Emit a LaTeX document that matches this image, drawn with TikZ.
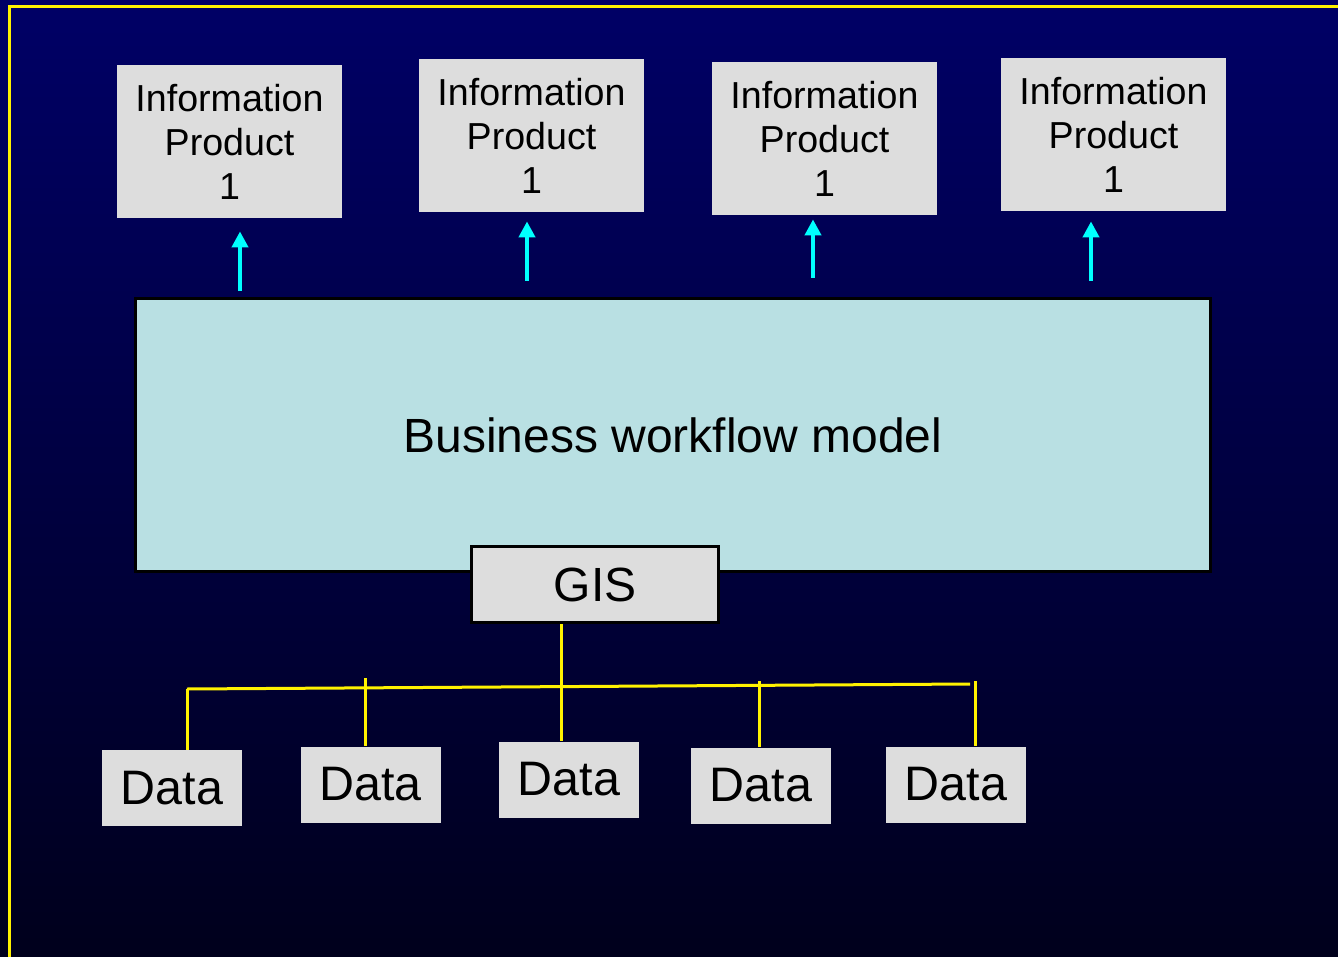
\documentclass[tikz,border=0pt]{standalone}
\usepackage{fontspec}
\setmainfont{Liberation Sans}
\usetikzlibrary{arrows.meta}
\definecolor{bgtop}{RGB}{0,0,102}
\definecolor{bgbottom}{RGB}{0,0,28}
\definecolor{boxgray}{RGB}{221,221,221}
\definecolor{modelcyan}{RGB}{185,224,227}
\definecolor{arrowcyan}{RGB}{0,255,255}

\tikzset{
	infobox/.style={fill=boxgray, minimum width=112.5pt, minimum height=76.5pt, inner sep=0pt, align=center, font=\fontsize{18.8}{22}\selectfont},
	modelbox/.style={fill=modelcyan, draw=black, line width=1.5pt, minimum width=537.5pt, minimum height=136.5pt, font=\fontsize{24}{28}\selectfont},
	gisbox/.style={fill=boxgray, draw=black, line width=1.5pt, minimum width=123.5pt, minimum height=38pt, font=\fontsize{24}{28}\selectfont},
	databox/.style={fill=boxgray, minimum width=70pt, minimum height=38pt, inner sep=0pt, font=\fontsize{24.2}{28}\selectfont},
	uparrow/.style={draw=arrowcyan, line width=2.3pt, -{Triangle[width=8pt,length=8pt]}},
	bus/.style={draw=yellow, line width=1.5pt},
}

\begin{document}
\begin{tikzpicture}[x=0.5pt, y=-0.5pt]
			%%%%% BACKGROUND %%%%%
			
			\shade[top color=bgtop, bottom color=bgbottom] (0, 0) rectangle (1338, 957);
			\useasboundingbox (0, 0) rectangle (1338, 957);
			\draw[yellow, line width=1.5pt] (9, 957) -- (9, 7) -- (1338, 7);
			
			%%%%% INFORMATION PRODUCTS %%%%%
			
			\node[infobox] (ip1) at (229.5, 141.5) {Information\\Product\\1};
			\node[infobox] (ip2) at (531.5, 135.5) {Information\\Product\\1};
			\node[infobox] (ip3) at (824.5, 138.5) {Information\\Product\\1};
			\node[infobox] (ip4) at (1113.5, 134.5) {Information\\Product\\1};
			
			%%%%% MODEL AND GIS %%%%%
			
			\node[modelbox] (model) at (673, 435) {Business workflow model};
			\node[gisbox] (gis) at (595, 584.5) {GIS};
			
			\coordinate (a1) at (240, 0);
			\coordinate (a2) at (527, 0);
			\coordinate (a3) at (813, 0);
			\coordinate (a4) at (1091, 0);
			\draw[uparrow, shorten <=3pt, shorten >=6.5pt] (model.north -| a1) -- (ip1.south -| a1);
			\draw[uparrow, shorten <=8pt, shorten >=4.5pt] (model.north -| a2) -- (ip2.south -| a2);
			\draw[uparrow, shorten <=9.5pt, shorten >=2pt] (model.north -| a3) -- (ip3.south -| a3);
			\draw[uparrow, shorten <=8pt, shorten >=5pt] (model.north -| a4) -- (ip4.south -| a4);
			
			%%%%% DATA %%%%%
			
			\node[databox] (d1) at (172, 788) {Data};
			\node[databox] (d2) at (370.5, 784.5) {Data};
			\node[databox] (d3) at (569, 779.5) {Data};
			\node[databox] (d4) at (761, 785.5) {Data};
			\node[databox] (d5) at (956, 784.5) {Data};
			
			\coordinate (busL) at (187, 689);
			\coordinate (busR) at (970, 684);
			\coordinate (t2) at (365, 678);
			\coordinate (t3) at (561, 0);
			\coordinate (t4) at (759, 681);
			\coordinate (t5) at (975, 681);
			
			\draw[bus] (busL) -- (busR);
			\draw[bus] (gis.south -| t3) -- (d3.north -| t3);
			\draw[bus] (busL) -- (d1.north -| busL);
			\draw[bus] (t2) -- (d2.north -| t2);
			\draw[bus] (t4) -- (d4.north -| t4);
			\draw[bus] (t5) -- (d5.north -| t5);
			
			%%%%% END %%%%%
\end{tikzpicture}
\end{document}
